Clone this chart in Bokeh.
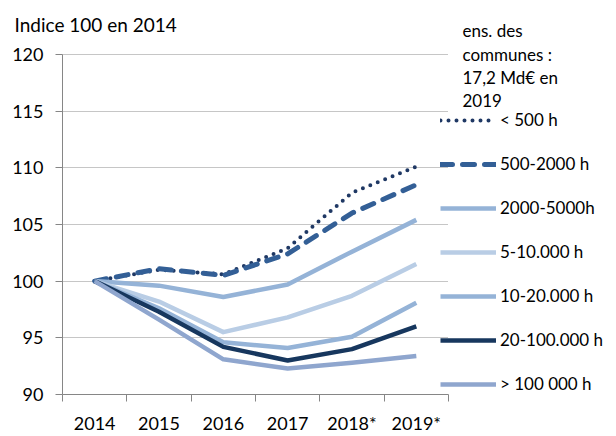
from bokeh.plotting import figure
from bokeh.models import FixedTicker, Legend, LegendItem, Label, Range1d
from bokeh.embed import file_html
from bokeh.resources import INLINE

years = ["2014", "2015", "2016", "2017", "2018*", "2019*"]
header_lines = ["ens. des", "communes :", "17,2 Md€ en", "2019"]
title_text = "Indice 100 en 2014"
y_ticks = [90, 95, 100, 105, 110, 115, 120]

names = ["< 500 h", "500-2000 h", "2000-5000h", "5-10.000 h", "10-20.000 h", "20-100.000 h", "> 100 000 h"]
lt500 = [100, 101.0, 100.6, 102.9, 107.8, 110.1]
s500_2000 = [100, 101.1, 100.5, 102.4, 106.0, 108.5]
s2000_5000 = [100, 99.6, 98.6, 99.7, 102.6, 105.4]
s5_10k = [100, 98.2, 95.5, 96.8, 98.7, 101.5]
s10_20k = [100, 97.6, 94.6, 94.1, 95.1, 98.1]
s20_100k = [100, 97.3, 94.2, 93.0, 94.0, 96.0]
gt100k = [100, 96.6, 93.1, 92.3, 92.8, 93.4]
series = [lt500, s500_2000, s2000_5000, s5_10k, s10_20k, s20_100k, gt100k]

colors = ["#1F3864", "#335F96", "#95B3D7", "#B9CDE5", "#95B3D7", "#17375E", "#8FA6CE"]
dashes = ["0 8", "12 10", "solid", "solid", "solid", "solid", "solid"]
widths = [4, 5, 4.5, 4.5, 4.5, 4.5, 4.5]
caps = ["round", "round", "butt", "butt", "butt", "butt", "butt"]

FONT = "Lato"
W, H = 616, 436
LEFT, BOTTOM, TOP = 62, 41, 22  # frame borders (px); TOP holds the title label
CAT_W = 64.33                    # px per category
PX_PER_UNIT = 11.4               # px per index point
AXIS_COLOR = "#868686"

x = list(range(len(years)))
x0 = -0.5
x1 = x0 + (W - LEFT) / CAT_W
y0 = y_ticks[0]
y1 = y0 + (H - BOTTOM - TOP) / PX_PER_UNIT


def dx(px):
    return x0 + (px - LEFT) / CAT_W


def dy(py):
    return y0 + (H - BOTTOM - py) / PX_PER_UNIT


p = figure(width=W, height=H, output_backend="svg", toolbar_location=None,
           x_range=Range1d(x0, x1), y_range=Range1d(y0, y1),
           min_border_left=LEFT, min_border_right=0, min_border_top=TOP, min_border_bottom=BOTTOM)
p.outline_line_color = None
p.background_fill_color = "white"

xa = p.xaxis[0]
xa.bounds = (x0, len(years) - 0.5)
xa.ticker = FixedTicker(ticks=x, minor_ticks=[i - 0.5 for i in range(len(years) + 1)])
xa.major_label_overrides = {i: y for i, y in enumerate(years)}
xa.major_tick_out = 0
xa.major_tick_in = 0
xa.minor_tick_out = 7
xa.minor_tick_in = 0
xa.minor_tick_line_color = AXIS_COLOR
xa.axis_line_color = AXIS_COLOR
xa.major_label_standoff = 10
xa.major_label_text_font = FONT
xa.major_label_text_font_size = "18px"
xa.major_label_text_color = "#000000"

ya = p.yaxis[0]
ya.bounds = (y_ticks[0], y_ticks[-1])
ya.ticker = FixedTicker(ticks=y_ticks)
ya.major_tick_out = 7
ya.major_tick_in = 0
ya.minor_tick_line_color = None
ya.major_tick_line_color = AXIS_COLOR
ya.axis_line_color = AXIS_COLOR
ya.major_label_standoff = 12
ya.major_label_text_font = FONT
ya.major_label_text_font_size = "18px"
ya.major_label_text_color = "#000000"

p.xgrid.visible = False
p.ygrid.grid_line_color = "#8C8C8C"
p.ygrid.grid_line_dash = "1 1"
p.ygrid.grid_line_width = 1
p.ygrid.bounds = (y_ticks[0], y_ticks[-1])
p.ygrid.cross_bounds = (x0, len(years) - 0.5)

items = []
for name, ys, c, d, w, cap in zip(names, series, colors, dashes, widths, caps):
    r = p.line(x, ys, line_color=c, line_width=w, line_dash=d, line_cap=cap, line_join="round")
    items.append(LegendItem(label=name, renderers=[r]))

legend = Legend(items=items, location=(440 - LEFT, 0), glyph_width=56, glyph_height=20,
                label_height=20, spacing=23, padding=0, margin=0, label_standoff=4,
                label_text_font=FONT, label_text_font_size="17px", label_text_color="#000000",
                border_line_alpha=0, background_fill_alpha=0)
p.add_layout(legend)

# title: placed in a side panel so that it is not clipped to the plot frame
p.add_layout(Label(x=dx(14), y=dy(23), text=title_text,
                   text_font=FONT, text_font_size="19px", text_baseline="middle",
                   text_color="#000000"), "above")
for i, t in enumerate(header_lines):
    p.add_layout(Label(x=dx(462), y=dy(29.5 + 23.2 * i), text=t,
                       text_font=FONT, text_font_size="17px", text_baseline="middle",
                       text_color="#000000"))

open("out.html", "w").write(file_html(p, INLINE))
